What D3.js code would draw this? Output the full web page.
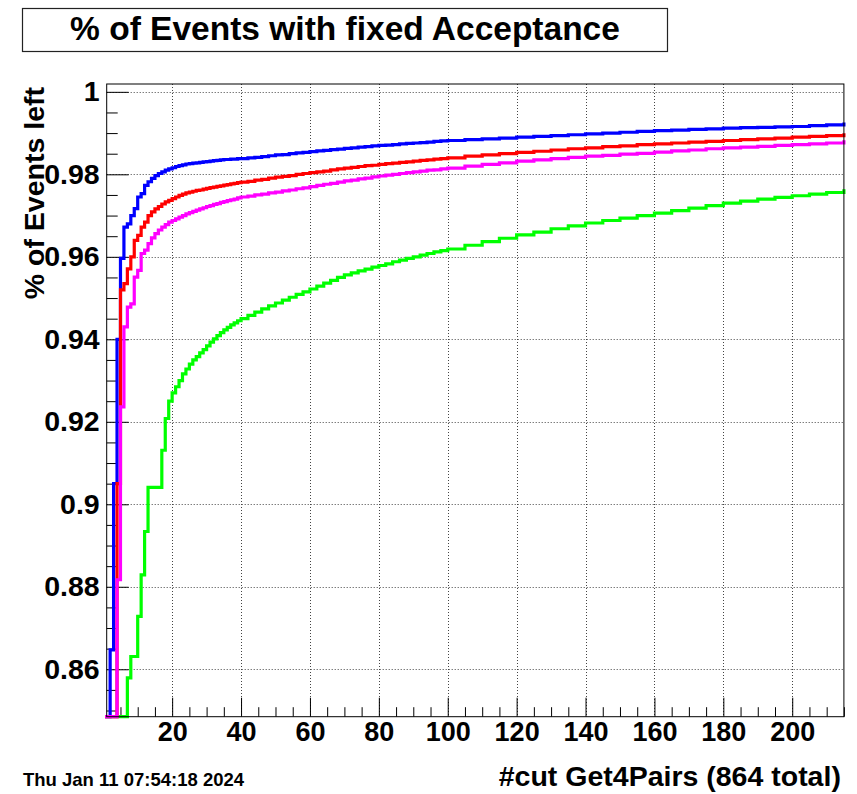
<!DOCTYPE html>
<html>
<head>
<meta charset="utf-8">
<script src="https://cdn.jsdelivr.net/npm/d3@7"></script>
<style>
  html, body { margin: 0; padding: 0; background: #ffffff; }
  svg { display: block; }
  text { font-family: "Liberation Sans", Arial, Helvetica, sans-serif; font-weight: bold; fill: #000; }
</style>
</head>
<body>
<svg id="chart" width="857" height="794"></svg>
<script>
// Cut index: every bin up to 40, every second bin up to 100, then every fifth bin
const cutIndex = [
  1, 2, 3, 4, 5, 6, 7, 8, 9, 10,
  11, 12, 13, 14, 15, 16, 17, 18, 19, 20,
  21, 22, 23, 24, 25, 26, 27, 28, 29, 30,
  31, 32, 33, 34, 35, 36, 37, 38, 39, 40,
  42, 44, 46, 48, 50, 52, 54, 56, 58, 60,
  62, 64, 66, 68, 70, 72, 74, 76, 78, 80,
  82, 84, 86, 88, 90, 92, 94, 96, 98, 100,
  105, 110, 115, 120, 125, 130, 135, 140, 145, 150,
  155, 160, 165, 170, 175, 180, 185, 190, 195, 200,
  205, 210, 215
];

// Fraction of events left after each cut (values under the axis minimum sit on the frame)
const blueFraction = [
  0.845, 0.8647, 0.905, 0.940, 0.9596, 0.9672, 0.968, 0.970, 0.9717, 0.9745,
  0.9753, 0.9773, 0.9782, 0.979, 0.9797, 0.9802, 0.9806, 0.981, 0.9813, 0.9816,
  0.9819, 0.9821, 0.9823, 0.9825, 0.9826, 0.9827, 0.9828, 0.9829, 0.983, 0.9831,
  0.9832, 0.9833, 0.9834, 0.9835, 0.9836, 0.9836, 0.9837, 0.9837, 0.9838, 0.9838,
  0.9840, 0.9841, 0.9843, 0.9845, 0.9847, 0.9848, 0.9850, 0.9852, 0.9853, 0.9855,
  0.9857, 0.9858, 0.9860, 0.9861, 0.9863, 0.9864, 0.9866, 0.9867, 0.9869, 0.9870,
  0.9871, 0.9872, 0.9874, 0.9875, 0.9876, 0.9877, 0.9878, 0.9880, 0.9881, 0.9882,
  0.9884, 0.9886, 0.9888, 0.9890, 0.9892, 0.9894, 0.9896, 0.9898, 0.9900, 0.9902,
  0.9904, 0.9906, 0.9907, 0.9909, 0.9910, 0.9912, 0.9913, 0.9914, 0.9915, 0.9916,
  0.9918, 0.9920, 0.9922
];

const redFraction = [
  0.845, 0.845, 0.845, 0.905, 0.952, 0.9535, 0.9571, 0.960, 0.964, 0.9652,
  0.9672, 0.9684, 0.970, 0.9709, 0.9716, 0.9722, 0.9728, 0.9733, 0.9737, 0.9741,
  0.9745, 0.9749, 0.9752, 0.9755, 0.9757, 0.9759, 0.9761, 0.9762, 0.9764, 0.9766,
  0.9768, 0.9769, 0.9771, 0.9772, 0.9774, 0.9775, 0.9777, 0.9778, 0.9780, 0.9781,
  0.9783, 0.9786, 0.9788, 0.9791, 0.9793, 0.9795, 0.9797, 0.9800, 0.9802, 0.9804,
  0.9806, 0.9808, 0.9811, 0.9813, 0.9815, 0.9817, 0.9819, 0.9821, 0.9822, 0.9824,
  0.9826, 0.9827, 0.9829, 0.9830, 0.9832, 0.9834, 0.9835, 0.9837, 0.9838, 0.9840,
  0.9844, 0.9847, 0.9850, 0.9853, 0.9856, 0.9859, 0.9862, 0.9864, 0.9867, 0.9869,
  0.9872, 0.9874, 0.9876, 0.9878, 0.9880, 0.9882, 0.9884, 0.9886, 0.9888, 0.9890,
  0.9892, 0.9894, 0.9896
];

const magentaFraction = [
  0.845, 0.845, 0.845, 0.8817, 0.9236, 0.943, 0.9478, 0.9486, 0.9551, 0.9567,
  0.9608, 0.9616, 0.9632, 0.9646, 0.9656, 0.9665, 0.9672, 0.9678, 0.9684, 0.9688,
  0.9692, 0.9696, 0.9700, 0.9704, 0.9707, 0.9710, 0.9713, 0.9716, 0.9719, 0.9722,
  0.9724, 0.9727, 0.9729, 0.9732, 0.9734, 0.9736, 0.9738, 0.9740, 0.9743, 0.9745,
  0.9747, 0.9750, 0.9752, 0.9755, 0.9757, 0.9760, 0.9762, 0.9765, 0.9767, 0.9770,
  0.9773, 0.9776, 0.9778, 0.9781, 0.9784, 0.9786, 0.9789, 0.9791, 0.9794, 0.9796,
  0.9798, 0.9800, 0.9802, 0.9804, 0.9806, 0.9808, 0.9810, 0.9811, 0.9813, 0.9815,
  0.9820, 0.9824, 0.9828, 0.9832, 0.9835, 0.9838, 0.9841, 0.9844, 0.9846, 0.9849,
  0.9851, 0.9854, 0.9857, 0.9859, 0.9862, 0.9864, 0.9866, 0.9868, 0.9870, 0.9872,
  0.9874, 0.9876, 0.9879
];

const greenFraction = [
  0.845, 0.845, 0.845, 0.845, 0.845, 0.845, 0.8579, 0.8631, 0.8631, 0.8728,
  0.8829, 0.8934, 0.9041, 0.9041, 0.9041, 0.9041, 0.9131, 0.9208, 0.9250, 0.9270,
  0.9285, 0.9300, 0.9316, 0.9328, 0.9340, 0.9350, 0.9358, 0.9367, 0.9375, 0.9384,
  0.9393, 0.9401, 0.9409, 0.9416, 0.9423, 0.9429, 0.9435, 0.9440, 0.9445, 0.9450,
  0.9458, 0.9466, 0.9474, 0.9481, 0.9488, 0.9495, 0.9502, 0.9509, 0.9515, 0.9522,
  0.9529, 0.9536, 0.9543, 0.9550, 0.9556, 0.9561, 0.9566, 0.9570, 0.9575, 0.9579,
  0.9583, 0.9588, 0.9592, 0.9596, 0.9600, 0.9604, 0.9608, 0.9612, 0.9615, 0.9619,
  0.9628, 0.9637, 0.9645, 0.9653, 0.9660, 0.9668, 0.9675, 0.9682, 0.9688, 0.9694,
  0.9700, 0.9706, 0.9712, 0.9718, 0.9724, 0.9730, 0.9735, 0.9740, 0.9744, 0.9748,
  0.9752, 0.9756, 0.9760
];

const seriesColors = ["#00ff00", "#0000ff", "#ff0000", "#ff00ff"];
const seriesValues = [greenFraction, blueFraction, redFraction, magentaFraction];

const xTickValues = [20, 40, 60, 80, 100, 120, 140, 160, 180, 200];
const yTickValues = [0.86, 0.88, 0.90, 0.92, 0.94, 0.96, 0.98, 1.0];

const chartTitle = "% of Events with fixed Acceptance";
const xTitle = "#cut Get4Pairs (864 total)";
const yTitle = "% of Events left";
const dateStamp = "Thu Jan 11 07:54:18 2024";

// ---- layout ----
const frame = { left: 106.7, right: 843.9, top: 84, bottom: 716.7 };
const svg = d3.select("#chart");

const x = d3.scaleLinear().domain([1, 215]).range([frame.left, frame.right]);
const y = d3.scaleLinear().domain([0.8485, 1.0019]).range([frame.bottom, frame.top]).clamp(true);

// grid (dotted, at major ticks)
const grid = svg.append("g").attr("stroke", "#444").attr("stroke-width", 1)
  .attr("stroke-dasharray", "1,2");
grid.selectAll("line.gx").data(xTickValues).join("line")
  .attr("x1", d => Math.round(x(d)) + 0.5).attr("x2", d => Math.round(x(d)) + 0.5)
  .attr("y1", frame.top).attr("y2", frame.bottom);
grid.selectAll("line.gy").data(yTickValues).join("line")
  .attr("x1", frame.left).attr("x2", frame.right)
  .attr("y1", d => Math.round(y(d)) + 0.5).attr("y2", d => Math.round(y(d)) + 0.5);

// minor ticks
const xMinor = d3.range(5, 216, 5).filter(v => v % 20 !== 0);
const yMinor = d3.range(0.85, 1.0001, 0.005).map(v => +v.toFixed(3))
  .filter(v => !yTickValues.some(t => Math.abs(t - v) < 1e-6));

svg.append("g").attr("transform", `translate(0,${frame.bottom})`)
  .call(d3.axisBottom(x).tickValues(xMinor).tickSize(-9.5).tickFormat(""))
  .call(g => g.select(".domain").remove())
  .call(g => g.selectAll("line").attr("stroke", "#000"));
svg.append("g").attr("transform", `translate(${frame.left},0)`)
  .call(d3.axisLeft(y).tickValues(yMinor).tickSize(-11).tickFormat(""))
  .call(g => g.select(".domain").remove())
  .call(g => g.selectAll("line").attr("stroke", "#000"));

// major ticks with labels
const fmt = d3.format(".2~f");
svg.append("g").attr("transform", `translate(0,${frame.bottom})`)
  .call(d3.axisBottom(x).tickValues(xTickValues).tickSize(-19).tickPadding(5.5).tickFormat(d3.format("d")))
  .call(g => g.select(".domain").remove())
  .call(g => g.selectAll("line").attr("stroke", "#000"))
  .call(g => g.selectAll("text").attr("font-size", 27)
    .attr("font-family", "'Liberation Sans', Arial, sans-serif").attr("font-weight", "bold").attr("fill", "#000"));
svg.append("g").attr("transform", `translate(${frame.left},0)`)
  .call(d3.axisLeft(y).tickValues(yTickValues).tickSize(-22).tickPadding(7).tickFormat(fmt))
  .call(g => g.select(".domain").remove())
  .call(g => g.selectAll("line").attr("stroke", "#000"))
  .call(g => g.selectAll("text").attr("font-size", 28.5)
    .attr("font-family", "'Liberation Sans', Arial, sans-serif").attr("font-weight", "bold").attr("fill", "#000"));

// step lines (histogram outline)
const stepLine = d3.line()
  .x(d => x(d[0]))
  .y(d => y(d[1]))
  .curve(d3.curveStepAfter);

seriesValues.forEach((vals, i) => {
  const pts = cutIndex.map((c, k) => [c, vals[k]]);
  svg.append("path")
    .attr("d", stepLine(pts))
    .attr("fill", "none")
    .attr("stroke", seriesColors[i])
    .attr("stroke-width", 3.2)
    .attr("stroke-linejoin", "miter")
    .attr("stroke-linecap", "square");
});

// frame
svg.append("rect")
  .attr("x", frame.left).attr("y", frame.top)
  .attr("width", frame.right - frame.left).attr("height", frame.bottom - frame.top)
  .attr("fill", "none").attr("stroke", "#000").attr("stroke-width", 1);

// title box
svg.append("rect")
  .attr("x", 22.5).attr("y", 8.5).attr("width", 645).attr("height", 43)
  .attr("fill", "#fff").attr("stroke", "#222").attr("stroke-width", 1.2);
svg.append("text")
  .attr("x", 345).attr("y", 40)
  .attr("text-anchor", "middle").attr("font-size", 33.5)
  .text(chartTitle);

// axis titles
svg.append("text")
  .attr("x", frame.right - 3).attr("y", 786)
  .attr("text-anchor", "end").attr("font-size", 28.5)
  .text(xTitle);
svg.append("text")
  .attr("transform", `translate(44,${frame.top + 3}) rotate(-90)`)
  .attr("text-anchor", "end").attr("font-size", 28.5)
  .text(yTitle);

// date stamp
svg.append("text")
  .attr("x", 23).attr("y", 786)
  .attr("font-size", 18.5)
  .text(dateStamp);
</script>
</body>
</html>
